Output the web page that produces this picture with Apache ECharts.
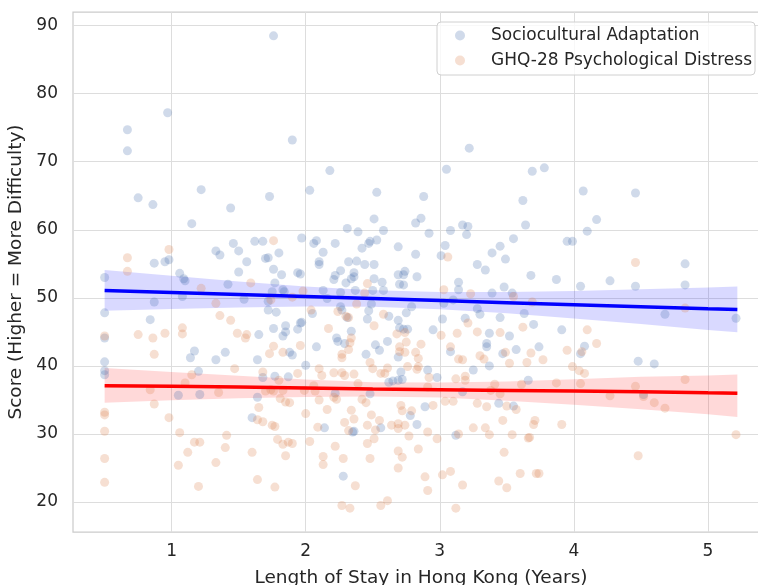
<!DOCTYPE html>
<html><head><meta charset="utf-8">
<script src="https://cdn.jsdelivr.net/npm/echarts@6/dist/echarts.min.js"></script>
<style>html,body{margin:0;padding:0;background:#fff}#c{width:758px;height:585px}</style>
</head><body><div id="c"></div>
<script>
// Sociocultural Adaptation: [length of stay (years), score]
const adaptPoints = [
[1.76,88.5],[0.97,77.2],[0.67,74.7],[0.67,71.6],[1.90,73.2],[3.22,72.0],[2.18,68.7],[3.05,68.9],[3.69,68.6],[3.78,69.1],
[0.75,64.7],[1.22,65.9],[1.73,64.9],[2.03,65.8],[2.53,65.5],[2.88,64.9],[3.62,64.3],[4.07,65.7],[4.46,65.4],
[0.86,63.7],[1.44,63.2],[1.15,60.9],[1.97,58.8],[1.62,58.3],[1.68,58.3],[1.46,58.0],[1.50,56.9],[1.33,56.9],[1.36,56.3],[1.80,56.6],
[1.56,55.3],[1.70,55.8],[1.72,55.9],[0.87,55.1],[0.95,55.3],[0.98,55.6],[1.76,54.2],[1.50,53.8],[1.06,53.6],[1.09,52.8],
[1.10,52.5],[0.50,53.0],[1.42,52.0],[1.77,52.2],[1.82,53.4],[1.94,53.7],[1.96,53.5],[1.75,50.9],[1.83,51.2],[1.84,50.9],
[1.08,50.2],[1.54,49.8],[1.72,49.5],[0.87,49.4],[0.50,47.8],[1.72,48.2],[1.78,47.9],[0.84,46.8],[1.96,46.3],[1.85,45.9],
[1.76,45.5],[1.85,45.0],[1.83,44.4],[1.94,45.4],[1.65,44.6],[0.50,44.1],[1.88,42.0],[1.90,41.6],[1.17,42.2],[1.14,41.2],
[1.40,42.0],[1.33,40.9],[1.64,40.9],[0.50,40.6],[0.50,39.3],[0.50,38.7],[1.20,39.2],[1.68,38.3],[1.77,38.5],[1.87,38.4],[2.00,40.1],
[1.05,35.7],[1.21,35.8],[1.64,35.4],[1.60,32.4],
[3.64,60.7],[2.51,61.6],[2.82,61.0],[2.86,61.7],[2.31,60.2],[2.39,59.7],[2.58,59.9],[2.92,59.5],[3.08,59.9],[3.17,60.7],
[3.21,60.5],[3.20,59.3],[3.55,58.7],[2.06,58.0],[2.08,58.4],[2.22,58.0],[2.13,56.7],[2.42,57.3],[2.47,58.0],[2.48,58.3],
[2.53,58.5],[2.69,57.5],[2.82,56.4],[3.04,57.7],[3.01,56.2],[3.45,57.6],[3.39,56.6],[3.49,55.7],[2.10,55.3],[2.10,54.9],
[2.32,55.3],[2.38,55.4],[2.44,54.9],[2.51,54.9],[3.28,54.9],[3.34,54.1],[3.68,53.3],[2.26,54.0],[2.22,53.3],[2.21,52.7],
[2.30,52.2],[2.36,53.7],[2.36,53.1],[2.34,52.8],[2.51,52.8],[2.57,52.3],[2.69,53.4],[2.74,53.9],[2.73,53.4],[2.70,52.0],
[2.73,51.9],[2.83,53.1],[3.14,52.3],[3.14,51.2],[3.39,50.7],[3.48,51.6],[3.54,50.7],[2.13,51.1],[2.16,49.9],[2.26,50.8],
[2.37,51.1],[2.50,51.1],[2.58,51.1],[3.03,49.2],[3.10,49.7],[1.97,46.4],[2.05,47.7],[2.26,48.7],[2.27,48.2],[2.31,47.1],
[2.46,46.9],[2.47,48.1],[2.49,49.1],[2.62,47.3],[2.79,48.7],[2.75,47.8],[2.69,46.7],[2.70,45.6],[2.73,45.4],[2.76,45.4],
[2.95,45.3],[3.02,46.9],[3.28,48.4],[3.30,47.6],[3.19,47.0],[3.45,47.1],[3.63,47.7],[3.70,46.1],[3.37,44.8],[3.52,44.4],
[2.34,45.1],[2.23,44.1],[2.24,43.6],[2.29,43.3],[2.08,42.8],[2.52,43.1],[2.55,42.3],[2.61,43.6],[2.45,41.7],[2.69,41.3],
[3.08,42.1],[3.35,43.3],[3.35,42.8],[3.47,41.8],[3.57,42.4],[3.37,40.0],[3.25,39.4],[2.71,39.1],
[2.62,37.6],[2.65,37.8],[2.69,37.9],[2.72,38.0],[2.91,39.4],[2.98,38.3],[3.66,37.9],
[2.22,36.0],[2.48,35.9],[2.89,34.0],[2.78,32.7],[2.83,31.4],[2.56,30.9],[2.14,30.9],[2.35,30.3],[2.36,30.4],[3.12,29.8],
[2.28,23.8],[3.17,36.2],[3.44,34.5],[3.55,34.1],
[4.17,61.5],[4.10,59.8],[3.95,58.3],[3.99,58.3],[4.83,55.0],[3.87,52.7],[4.05,51.7],[4.27,52.5],[4.46,51.7],[4.83,51.9],
[4.68,47.6],[5.21,47.0],[3.91,45.3],[3.74,42.8],[4.08,42.9],[4.05,41.8],[4.48,40.7],[4.60,40.3],[4.52,35.8]
];

// GHQ-28 Psychological Distress: [length of stay (years), score]
const distressPoints = [
[1.76,58.4],[0.98,57.1],[0.67,55.9],[0.67,53.9],[1.59,52.2],[1.22,51.4],[1.74,49.7],[1.90,50.1],[1.33,49.2],[1.36,47.4],
[1.44,46.7],[1.08,45.6],[1.08,44.7],[0.75,44.6],[0.86,44.1],[0.95,44.8],[0.50,44.4],[1.49,44.8],[1.56,44.6],[1.55,44.1],
[1.76,42.9],[1.73,41.8],[1.83,42.0],[1.96,43.0],[0.87,41.7],[1.47,39.6],[1.68,39.1],[1.15,38.7],[1.94,38.9],
[0.84,36.5],[0.87,34.4],[0.98,32.4],[0.50,33.2],[0.50,32.8],[0.50,30.4],[0.50,26.4],[0.50,22.9],[1.06,30.2],[1.10,37.5],
[1.35,36.1],[1.17,28.8],[1.21,28.8],[1.12,27.3],[1.05,25.4],[1.20,22.3],[1.33,25.8],[1.40,28.0],[1.41,29.8],[1.65,33.9],
[1.64,32.1],[1.68,31.8],[1.75,31.3],[1.77,31.1],[1.60,27.3],[1.64,23.3],[1.77,22.2],[1.79,29.2],[1.83,28.5],[1.87,28.8],
[1.90,28.6],[1.85,26.8],[1.70,36.3],[1.74,36.5],[1.76,36.3],[1.80,37.9],[1.83,36.4],[1.81,35.2],[1.85,34.7],[1.88,34.6],
[2.00,33.0],[2.03,28.9],
[3.06,56.0],[3.03,51.2],[3.23,50.6],[3.55,50.2],[2.46,52.1],[2.44,50.7],[2.38,49.1],[1.98,51.0],[2.04,48.2],[2.24,48.0],
[2.30,47.3],[2.32,47.1],[2.58,47.6],[2.17,45.5],[2.51,45.9],[2.68,44.7],[2.74,44.9],[2.34,44.1],[2.33,43.4],[3.01,44.5],
[3.13,44.8],[3.21,46.3],[3.28,45.0],[3.45,44.9],[3.62,45.7],[2.27,41.7],[2.27,41.2],[2.32,42.4],[2.70,42.8],[2.75,43.5],
[2.74,42.0],[2.70,42.1],[2.86,43.2],[2.82,42.0],[2.84,41.1],[3.08,42.8],[3.14,41.0],[3.17,40.9],[3.30,41.5],[3.33,41.0],
[3.49,42.0],[3.52,40.4],[3.65,40.5],[3.68,41.9],[2.48,40.5],[2.50,39.6],[2.56,38.9],[2.10,39.6],[2.12,38.6],[2.21,39.0],
[2.27,39.0],[2.29,38.6],[2.36,38.8],[2.59,38.9],[2.61,39.7],[2.76,39.9],[2.84,39.9],[2.83,39.5],[2.92,38.3],[3.12,38.1],
[2.10,35.0],[2.06,37.1],[2.07,36.3],[1.99,36.4],[2.16,33.6],[2.09,31.0],[2.22,28.2],[2.13,26.7],[2.13,25.5],[2.28,26.4],
[2.21,35.4],[2.23,35.1],[2.29,31.7],[2.32,30.5],[2.34,33.5],[2.36,32.2],[2.39,37.4],[2.42,35.1],[2.45,34.6],[2.37,22.4],
[2.27,19.5],[2.33,19.1],[2.46,31.3],[2.49,32.8],[2.55,32.0],[2.52,30.6],[2.51,29.3],[2.46,28.6],[2.48,26.4],[2.64,31.3],
[2.69,31.5],[2.69,30.8],[2.74,31.3],[2.71,34.2],[2.72,33.4],[2.79,33.4],[2.77,29.7],[2.69,27.5],[2.72,26.6],[2.69,25.0],
[2.84,27.8],[2.56,19.5],[2.61,20.2],[2.89,23.7],[2.91,21.7],[2.91,30.3],[2.95,34.2],[2.98,29.3],[3.02,24.0],[3.08,24.5],
[3.04,34.8],[3.10,34.8],[3.12,19.1],[3.14,30.0],[3.17,22.5],[3.25,30.9],[3.28,34.5],[3.35,34.0],[3.34,30.9],[3.37,29.9],
[3.38,36.4],[3.41,37.3],[3.45,35.9],[3.47,32.0],[3.48,27.3],[3.44,23.1],[3.50,22.1],[3.50,34.1],[3.57,33.6],[3.54,29.9],
[3.60,24.2],[3.66,29.4],[3.70,31.4],[3.72,24.2],[3.61,37.3],[3.19,38.5],[3.19,37.9],[2.91,36.9],
[4.46,55.2],[3.69,49.4],[4.83,48.5],[4.10,45.3],[4.17,43.3],[3.95,42.3],[4.06,42.1],[3.77,40.9],[3.99,39.9],[4.04,39.3],
[4.08,38.9],[3.87,37.5],[4.05,37.4],[4.46,37.0],[4.83,38.0],[4.27,35.6],[4.52,35.5],[4.60,34.6],[4.68,33.8],[3.71,32.0],
[3.91,31.4],[3.67,29.5],[5.21,29.9],[4.48,26.8],[3.74,24.2]
];

// Regression lines and 95% confidence bands
const trendX = [0.5, 1, 1.5, 2, 2.5, 3, 3.5, 4, 4.5, 5, 5.22];
const adaptFit   = [51.1, 50.8, 50.5, 50.2, 49.9, 49.6, 49.3, 49.0, 48.7, 48.4, 48.3];
const adaptUpper = [54.1, 53.24, 52.42, 51.68, 51.12, 50.86, 50.86, 51.02, 51.25, 51.51, 51.67];
const adaptLower = [48.1, 48.36, 48.58, 48.72, 48.68, 48.34, 47.74, 46.98, 46.15, 45.29, 44.93];
const distressFit   = [37.1, 37.0, 36.9, 36.75, 36.6, 36.5, 36.4, 36.3, 36.2, 36.05, 36.0];
const distressUpper = [39.7, 39.1, 38.55, 38.01, 37.62, 37.55, 37.73, 38.03, 38.4, 38.6, 38.75];
const distressLower = [34.6, 34.95, 35.25, 35.45, 35.5, 35.35, 34.9, 34.3, 33.65, 32.9, 32.5];

const xTicks = [1, 2, 3, 4, 5];
const yTicks = [20, 30, 40, 50, 60, 70, 80, 90];

const chart = echarts.init(document.getElementById('c'), null, {renderer: 'canvas'});
const textColor = '#262626';
const pair = (xs, ys) => xs.map((x, i) => [x, ys[i]]);

function band(name, upper, lower, fill) {
  return {
    type: 'custom', name: name, silent: true,
    data: [[trendX[0], upper[0]]],
    renderItem: function (params, api) {
      const pts = [];
      for (let i = 0; i < trendX.length; i++) pts.push(api.coord([trendX[i], upper[i]]));
      for (let i = trendX.length - 1; i >= 0; i--) pts.push(api.coord([trendX[i], lower[i]]));
      return {type: 'polygon', shape: {points: pts}, style: {fill: fill}};
    }
  };
}

chart.setOption({
  animation: false,
  backgroundColor: '#ffffff',
  grid: {left: 73, top: 12, right: -11, bottom: 53, show: true, outerBoundsMode: 'none', containLabel: false,
         borderColor: '#cccccc', borderWidth: 1.25, backgroundColor: 'transparent'},
  xAxis: {
    type: 'value', min: 0.264, max: 5.456,
    name: 'Length of Stay in Hong Kong (Years)', nameLocation: 'middle', nameGap: 37,
    nameTextStyle: {fontSize: 18.5, color: textColor, fontFamily: 'DejaVu Sans'},
    axisLine: {show: false}, axisTick: {show: false, customValues: xTicks},
    axisLabel: {customValues: xTicks, fontSize: 17, color: textColor, margin: 11, fontFamily: 'DejaVu Sans'},
    splitLine: {show: true, lineStyle: {color: '#dddddd', width: 1}}
  },
  yAxis: {
    type: 'value', min: 15.6, max: 92,
    name: 'Score (Higher = More Difficulty)', nameLocation: 'middle', nameGap: 39, nameRotate: 90,
    nameTextStyle: {fontSize: 18.5, color: textColor, fontFamily: 'DejaVu Sans'},
    axisLine: {show: false}, axisTick: {show: false, customValues: yTicks},
    axisLabel: {customValues: yTicks, fontSize: 17, color: textColor, margin: 15, fontFamily: 'DejaVu Sans'},
    splitLine: {show: true, lineStyle: {color: '#dddddd', width: 1}}
  },
  legend: {
    data: ['Sociocultural Adaptation', 'GHQ-28 Psychological Distress'],
    orient: 'vertical', left: 437, top: 22, icon: 'circle',
    itemWidth: 10, itemHeight: 10, itemGap: 8, padding: [5, 3, 6, 18],
    backgroundColor: 'rgba(255,255,255,0.8)', borderColor: '#d0d0d0', borderWidth: 1, borderRadius: 4,
    formatter: function (name) { return '{s|}' + name; },
    textStyle: {fontSize: 17, color: textColor, fontFamily: 'DejaVu Sans',
                rich: {s: {width: 21, fontSize: 17}}}
  },
  series: [
    {type: 'scatter', name: 'Sociocultural Adaptation', data: adaptPoints, symbolSize: 9,
     itemStyle: {color: 'rgba(76,114,176,0.33)'}},
    band('adaptBand', adaptUpper, adaptLower, 'rgba(0,0,255,0.15)'),
    {type: 'line', name: 'adaptFit', data: pair(trendX, adaptFit), symbol: 'none', silent: true,
     lineStyle: {color: '#0000ff', width: 3.5}},
    {type: 'scatter', name: 'GHQ-28 Psychological Distress', data: distressPoints, symbolSize: 9,
     itemStyle: {color: 'rgba(221,132,82,0.33)'}},
    band('distressBand', distressUpper, distressLower, 'rgba(255,0,0,0.15)'),
    {type: 'line', name: 'distressFit', data: pair(trendX, distressFit), symbol: 'none', silent: true,
     lineStyle: {color: '#ff0000', width: 3.5}}
  ]
});
</script></body></html>
